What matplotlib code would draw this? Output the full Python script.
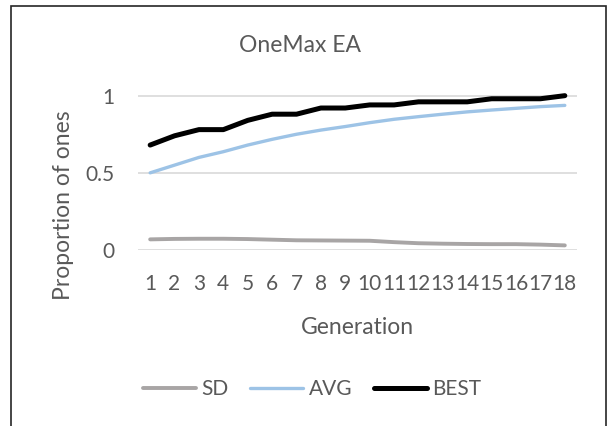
import matplotlib
matplotlib.use("Agg")
import matplotlib.pyplot as plt
from matplotlib.patches import Rectangle

plt.rcParams['font.family'] = ['Lato', 'DejaVu Sans']

generations = [str(g) for g in range(1, 19)]
sd = [0.069, 0.072, 0.073, 0.073, 0.071, 0.067, 0.063, 0.062, 0.061, 0.060,
      0.051, 0.044, 0.041, 0.039, 0.038, 0.038, 0.035, 0.030]
avg = [0.50, 0.55, 0.60, 0.637, 0.68, 0.717, 0.75, 0.777, 0.80, 0.825,
       0.847, 0.864, 0.88, 0.895, 0.907, 0.918, 0.929, 0.937]
best = [0.68, 0.74, 0.78, 0.78, 0.84, 0.88, 0.88, 0.92, 0.92, 0.94,
        0.94, 0.96, 0.96, 0.96, 0.98, 0.98, 0.98, 1.00]
y_ticks = [0, 0.5, 1]
y_tick_labels = ["0", "0.5", "1"]

text_color = "#595959"
grid_color = "#D9D9D9"

fig = plt.figure(figsize=(6.07, 4.26), dpi=100)
fig.patch.set_facecolor("white")

# chart frame
fig.patches.append(Rectangle((11 / 607, -0.05), (606 - 11) / 607, 1.05 - 6.5 / 426,
                             transform=fig.transFigure, fill=False,
                             edgecolor="#262626", linewidth=1.2))

ax = fig.add_axes([0.2273, 0.4131, 0.7233, 0.4348])
x = list(range(len(generations)))
ax.plot(x, sd, color="#A8A5A5", linewidth=2.8, solid_capstyle="round", label="SD", zorder=3)
ax.plot(x, avg, color="#9DC3E6", linewidth=2.4, solid_capstyle="round", label="AVG", zorder=3)
ax.plot(x, best, color="black", linewidth=3.6, solid_capstyle="round", label="BEST", zorder=4)

ax.set_xlim(-0.5, len(generations) - 0.5)
ax.set_ylim(0, 1.2)
ax.set_yticks(y_ticks)
ax.set_yticklabels(y_tick_labels)
ax.set_xticks(x)
ax.set_xticklabels(generations)
for yv in y_ticks:
    ax.axhline(yv, color=grid_color, linewidth=1.2, zorder=1)
for s in ax.spines.values():
    s.set_visible(False)
ax.tick_params(axis="both", length=0, labelsize=15, labelcolor=text_color)
ax.tick_params(axis="x", pad=17)
ax.tick_params(axis="y", pad=17)

fig.text(300 / 607, 1 - 45 / 426, "OneMax EA", ha="center", va="center",
         fontsize=16.5, color=text_color)
fig.text(63 / 607, 1 - 205 / 426, "Proportion of ones", ha="center", va="center",
         rotation=90, fontsize=16.5, color=text_color)
fig.text(357 / 607, 1 - 328 / 426, "Generation", ha="center", va="center",
         fontsize=16.5, color=text_color)

fig.legend(loc="center", bbox_to_anchor=(312 / 607, 1 - 389 / 426), ncol=3,
           frameon=False, fontsize=15, labelcolor=text_color,
           handlelength=2.55, handletextpad=0.25, columnspacing=1.05)

fig.savefig("out.png", dpi=100, facecolor="white")
